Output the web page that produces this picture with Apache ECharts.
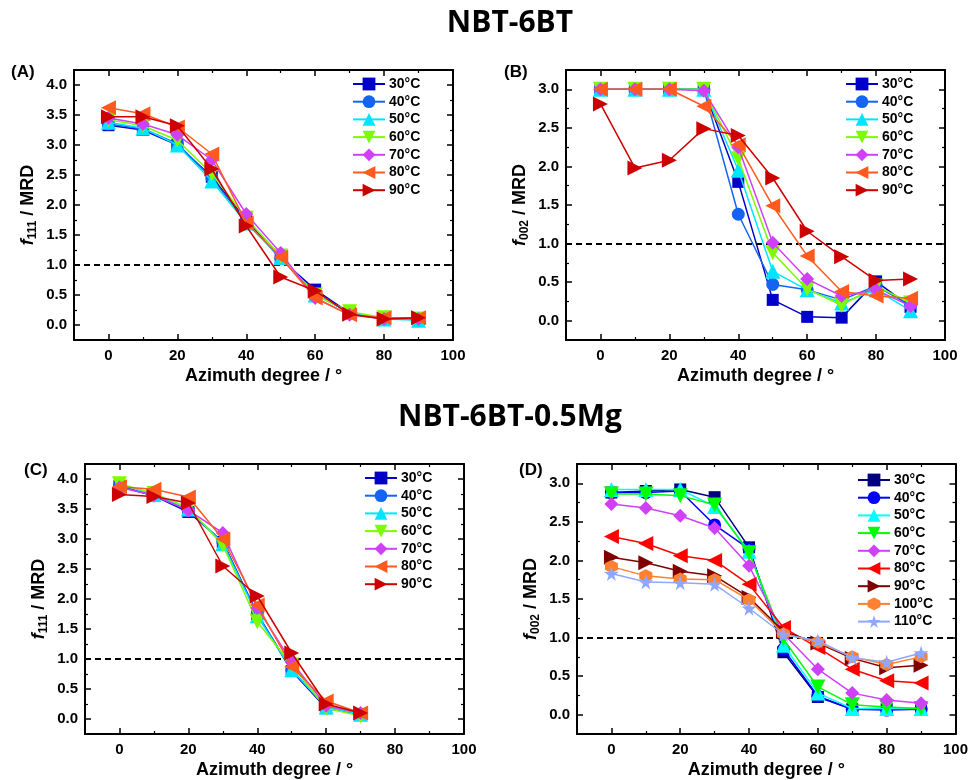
<!DOCTYPE html>
<html>
<head>
<meta charset="utf-8">
<script src="https://cdn.jsdelivr.net/npm/echarts@6/dist/echarts.min.js"></script>
<style>
  html, body { margin: 0; padding: 0; background: #fff; }
  #chart { width: 971px; height: 780px; }
</style>
</head>
<body>
<div id="chart"></div>
<script>
// Azimuth angles (degrees)
const azimuth = [0, 10, 20, 30, 40, 50, 60, 70, 80, 90];
const azimuthC = [0, 10, 20, 30, 40, 50, 60, 70];

// (A) NBT-6BT, f111
const a30 = [3.33, 3.25, 3.00, 2.47, 1.75, 1.10, 0.59, 0.20, 0.10, 0.10];
const a40 = [3.35, 3.27, 3.02, 2.45, 1.72, 1.12, 0.52, 0.20, 0.10, 0.10];
const a50 = [3.38, 3.28, 3.00, 2.40, 1.70, 1.12, 0.50, 0.22, 0.10, 0.08];
const a60 = [3.42, 3.32, 3.08, 2.52, 1.78, 1.15, 0.50, 0.22, 0.12, 0.10];
const a70 = [3.45, 3.35, 3.17, 2.75, 1.85, 1.20, 0.45, 0.17, 0.10, 0.10];
const a80 = [3.62, 3.52, 3.30, 2.85, 1.70, 1.13, 0.45, 0.17, 0.12, 0.12];
const a90 = [3.47, 3.47, 3.32, 2.60, 1.65, 0.80, 0.57, 0.18, 0.10, 0.12];

// (B) NBT-6BT, f002
const b30 = [3.00, 3.00, 3.00, 3.00, 1.80, 0.27, 0.05, 0.04, 0.51, 0.18];
const b40 = [3.00, 3.00, 3.00, 3.00, 1.38, 0.47, 0.40, 0.27, 0.45, 0.20];
const b50 = [3.00, 3.00, 3.00, 3.00, 1.95, 0.64, 0.40, 0.23, 0.40, 0.13];
const b60 = [3.00, 3.00, 3.00, 3.00, 2.10, 0.88, 0.41, 0.20, 0.45, 0.23];
const b70 = [3.00, 3.00, 3.00, 2.98, 2.25, 1.01, 0.54, 0.32, 0.40, 0.19];
const b80 = [3.00, 3.00, 3.00, 2.78, 2.28, 1.49, 0.84, 0.38, 0.32, 0.29];
const b90 = [2.81, 1.98, 2.08, 2.49, 2.40, 1.85, 1.16, 0.83, 0.52, 0.54];

// (C) NBT-6BT-0.5Mg, f111
const c30 = [3.88, 3.72, 3.45, 2.95, 1.75, 0.80, 0.18, 0.08];
const c40 = [3.88, 3.72, 3.48, 2.95, 1.75, 0.82, 0.20, 0.08];
const c50 = [3.92, 3.74, 3.50, 2.92, 1.72, 0.82, 0.20, 0.08];
const c60 = [3.92, 3.76, 3.52, 2.90, 1.62, 0.90, 0.18, 0.05];
const c70 = [3.86, 3.73, 3.48, 3.10, 1.85, 0.95, 0.22, 0.10];
const c80 = [3.87, 3.83, 3.70, 3.00, 1.90, 0.87, 0.30, 0.10];
const c90 = [3.74, 3.71, 3.60, 2.55, 2.05, 1.10, 0.25, 0.10];

// (D) NBT-6BT-0.5Mg, f002
const d30 = [2.88, 2.90, 2.92, 2.82, 2.17, 0.81, 0.23, 0.07, 0.07, 0.08];
const d40 = [2.88, 2.88, 2.90, 2.46, 2.15, 0.85, 0.24, 0.07, 0.06, 0.07];
const d50 = [2.92, 2.92, 2.92, 2.70, 2.12, 0.90, 0.28, 0.08, 0.08, 0.08];
const d60 = [2.86, 2.86, 2.84, 2.72, 2.10, 0.98, 0.36, 0.13, 0.10, 0.08];
const d70 = [2.73, 2.68, 2.58, 2.42, 1.93, 1.05, 0.59, 0.28, 0.19, 0.15];
const d80 = [2.31, 2.22, 2.06, 2.00, 1.69, 1.13, 0.87, 0.59, 0.44, 0.41];
const d90 = [2.04, 1.97, 1.86, 1.80, 1.52, 1.08, 0.93, 0.73, 0.61, 0.64];
const d100 = [1.92, 1.80, 1.76, 1.75, 1.49, 1.05, 0.94, 0.75, 0.65, 0.75];
const d110 = [1.83, 1.72, 1.71, 1.69, 1.38, 1.04, 0.96, 0.74, 0.68, 0.80];

const tempsAC = ['30°C', '40°C', '50°C', '60°C', '70°C', '80°C', '90°C'];
const tempsD = ['30°C', '40°C', '50°C', '60°C', '70°C', '80°C', '90°C', '100°C', '110°C'];

// Marker shapes
const SYM = {
  square: 'rect',
  circle: 'circle',
  up: 'triangle',
  down: 'path://M0,0 L10,0 L5,9 Z',
  diamond: 'diamond',
  left: 'path://M9,0 L9,10 L0,5 Z',
  right: 'path://M0,0 L0,10 L9,5 Z',
  hex: 'path://M5,0 L9.33,2.5 L9.33,7.5 L5,10 L0.67,7.5 L0.67,2.5 Z',
  star: 'path://M50,0 L61,35 L98,35 L68,57 L79,91 L50,70 L21,91 L32,57 L2,35 L39,35 Z'
};
const SHAPES = [SYM.square, SYM.circle, SYM.up, SYM.down, SYM.diamond, SYM.left, SYM.right, SYM.hex, SYM.star];
const SIZES = [12, 13, 15, 15, 14, 15, 15, 13, 15];

const COLORS_ABC = ['#0000c8', '#1464f4', '#00e5ff', '#7cfc00', '#d040f8', '#ff5a1e', '#cc0000'];
const COLORS_D = ['#000080', '#0000ff', '#00ffff', '#00ff00', '#d040f8', '#ff0000', '#800000', '#ff8030', '#8fa8ff'];

const FONT = 'Liberation Sans, Arial, sans-serif';

const grids = [
  { left: 74, top: 70, width: 379, height: 270 },
  { left: 566, top: 70, width: 379, height: 270 },
  { left: 85, top: 464, width: 379, height: 271 },
  { left: 577, top: 464, width: 379, height: 271 }
];

const panels = [
  { key: 'A', ymax: 4.25, split: 9, sub: '111', x: azimuth, sets: [a30, a40, a50, a60, a70, a80, a90], names: tempsAC, colors: COLORS_ABC, legend: { left: 352, top: 77 } },
  { key: 'B', ymax: 3.25, split: 7, sub: '002', x: azimuth, sets: [b30, b40, b50, b60, b70, b80, b90], names: tempsAC, colors: COLORS_ABC, legend: { left: 845, top: 77 } },
  { key: 'C', ymax: 4.25, split: 9, sub: '111', x: azimuthC, sets: [c30, c40, c50, c60, c70, c80, c90], names: tempsAC, colors: COLORS_ABC, legend: { left: 364, top: 471 } },
  { key: 'D', ymax: 3.25, split: 7, sub: '002', x: azimuth, sets: [d30, d40, d50, d60, d70, d80, d90, d100, d110], names: tempsD, colors: COLORS_D, legend: { left: 857, top: 473 } }
];

const option = {
  backgroundColor: '#fff',
  animation: false,
  grid: grids.map(g => Object.assign({ containLabel: false }, g)),
  xAxis: [],
  yAxis: [],
  legend: [],
  series: [],
  graphic: []
};

const axisLine = { show: true, onZero: false, lineStyle: { color: '#000', width: 2 } };
const tick = { show: true, inside: true, length: 6, lineStyle: { color: '#000', width: 1.5 } };
const minor = { show: true, splitNumber: 2, length: 3, lineStyle: { color: '#000', width: 1.2 } };
const tickLabel = { color: '#000', fontWeight: 'bold', fontSize: 15, fontFamily: FONT };

panels.forEach((p, i) => {
  const xi = option.xAxis.length;
  const yi = option.yAxis.length;
  // bottom and top x axes
  option.xAxis.push({
    type: 'value', gridIndex: i, position: 'bottom', min: -10, max: 100, splitNumber: 5,
    axisLine, axisTick: tick, minorTick: minor, splitLine: { show: false },
    axisLabel: Object.assign({ margin: 8, showMinLabel: false }, tickLabel),
    name: 'Azimuth degree / °', nameLocation: 'middle', nameGap: 27,
    nameTextStyle: { color: '#000', fontWeight: 'bold', fontSize: 18, fontFamily: FONT }
  });
  option.xAxis.push({
    type: 'value', gridIndex: i, position: 'top', min: -10, max: 100, splitNumber: 5,
    axisLine, axisTick: tick, minorTick: minor, splitLine: { show: false },
    axisLabel: { show: false }
  });
  // left and right y axes
  option.yAxis.push({
    type: 'value', gridIndex: i, position: 'left', min: -0.25, max: p.ymax, splitNumber: p.split,
    axisLine, axisTick: tick, minorTick: minor, splitLine: { show: false },
    axisLabel: Object.assign({ margin: 7, showMinLabel: false, showMaxLabel: false,
      formatter: v => v.toFixed(1) }, tickLabel),
    name: '{f|f}{s|' + p.sub + '}{n| / MRD}', nameLocation: 'middle', nameRotate: 90, nameGap: 36,
    nameTextStyle: {
      color: '#000', fontFamily: FONT,
      rich: {
        f: { fontStyle: 'italic', fontWeight: 'bold', fontSize: 18, fontFamily: FONT, color: '#000', lineHeight: 20 },
        s: { fontWeight: 'bold', fontSize: 12, fontFamily: FONT, color: '#000', padding: [9, 0, 0, 0], lineHeight: 20 },
        n: { fontWeight: 'bold', fontSize: 18, fontFamily: FONT, color: '#000', lineHeight: 20 }
      }
    }
  });
  option.yAxis.push({
    type: 'value', gridIndex: i, position: 'right', min: -0.25, max: p.ymax, splitNumber: p.split,
    axisLine, axisTick: tick, minorTick: minor, splitLine: { show: false },
    axisLabel: { show: false }
  });

  const legendNames = [];
  p.sets.forEach((vals, k) => {
    const name = p.key + '|' + p.names[k];
    legendNames.push(name);
    option.series.push({
      type: 'line', name, xAxisIndex: xi, yAxisIndex: yi,
      data: p.x.map((x, j) => [x, vals[j]]),
      symbol: SHAPES[k], symbolSize: SIZES[k],
      lineStyle: { color: p.colors[k], width: 1.5 },
      itemStyle: { color: p.colors[k] },
      z: 3 + k
    });
  });
  // f = 1 MRD reference line
  option.series.push({
    type: 'line', xAxisIndex: xi, yAxisIndex: yi, data: [], silent: true,
    markLine: {
      silent: true, symbol: 'none', label: { show: false },
      lineStyle: { color: '#000', type: [6, 4], width: 2 },
      data: [{ yAxis: 1 }]
    },
    z: 2
  });
  option.legend.push({
    data: legendNames, orient: 'vertical', left: p.legend.left, top: p.legend.top,
    padding: 0, itemGap: 3.7, itemWidth: 32, itemHeight: 16,
    formatter: n => n.split('|')[1],
    textStyle: { color: '#000', fontWeight: 'bold', fontSize: 14, fontFamily: FONT, padding: [0, 0, 0, -1] },
    selectedMode: false
  });
});

// Section titles and panel tags
option.graphic = [
  { type: 'text', x: 510, y: 23, style: { text: 'NBT-6BT', fontFamily: 'Open Sans', fontWeight: 'bold', fontSize: 30, fill: '#000', textAlign: 'center', textVerticalAlign: 'middle' } },
  { type: 'text', x: 510, y: 417, style: { text: 'NBT-6BT-0.5Mg', fontFamily: 'Open Sans', fontWeight: 'bold', fontSize: 30, fill: '#000', textAlign: 'center', textVerticalAlign: 'middle' } },
  { type: 'text', x: 11, y: 72, style: { text: '(A)', font: 'bold 17px ' + FONT, fill: '#000', textVerticalAlign: 'middle' } },
  { type: 'text', x: 504, y: 72, style: { text: '(B)', font: 'bold 17px ' + FONT, fill: '#000', textVerticalAlign: 'middle' } },
  { type: 'text', x: 24, y: 470, style: { text: '(C)', font: 'bold 17px ' + FONT, fill: '#000', textVerticalAlign: 'middle' } },
  { type: 'text', x: 519, y: 470, style: { text: '(D)', font: 'bold 17px ' + FONT, fill: '#000', textVerticalAlign: 'middle' } }
];

const chart = echarts.init(document.getElementById('chart'), null, { renderer: 'canvas' });
chart.setOption(option);
</script>
</body>
</html>
